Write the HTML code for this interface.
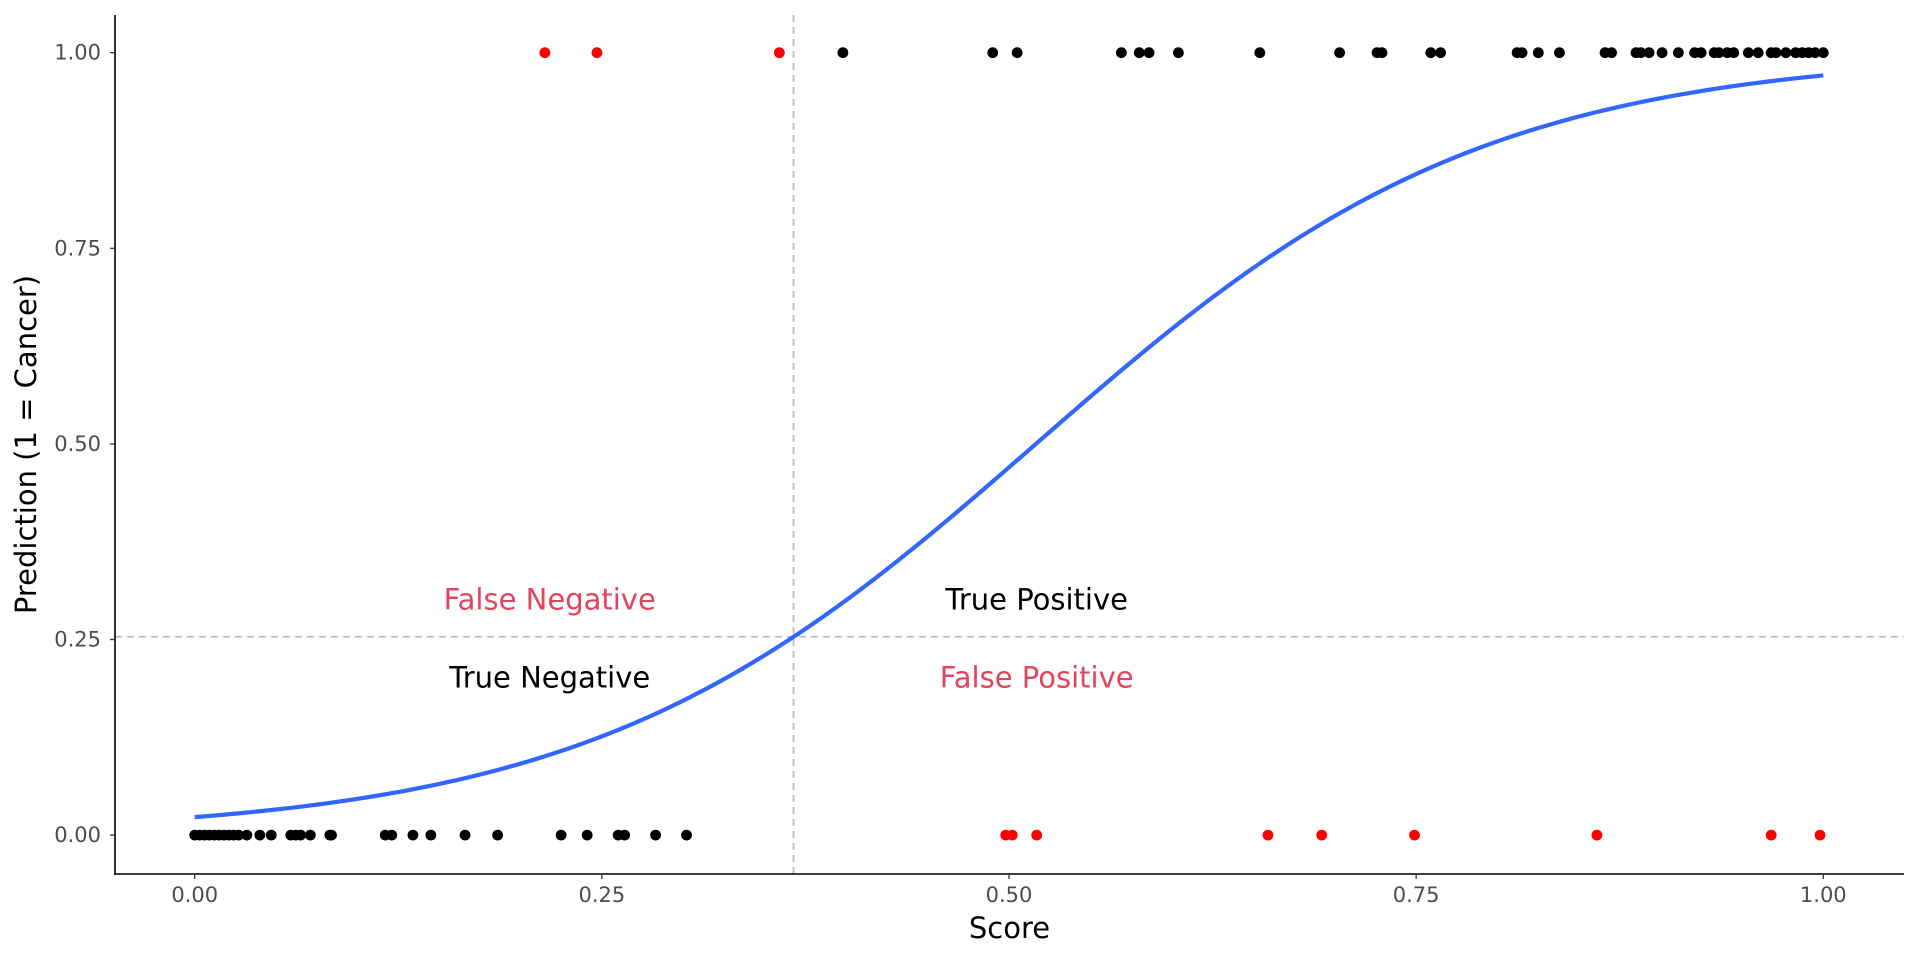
<!DOCTYPE html>
<html><head><meta charset="utf-8"><style>
html,body{margin:0;padding:0;background:#fff;}
svg{display:block;font-family:"DejaVu Sans","Liberation Sans",sans-serif;}
</style></head><body>
<svg id="chart" width="1920" height="960" xmlns="http://www.w3.org/2000/svg"></svg>
<script>
const xTicks = [0, 0.25, 0.5, 0.75, 1.0];
const xTickLabels = ["0.00", "0.25", "0.50", "0.75", "1.00"];
const yTicks = [0, 0.25, 0.5, 0.75, 1.0];
const yTickLabels = ["0.00", "0.25", "0.50", "0.75", "1.00"];
const topRed = [0.215, 0.247, 0.359];
const topBlack = [0.398,0.490,0.505,0.569,0.580,0.586,0.604,0.654,0.703,0.726,0.729,0.759,0.765,0.812,0.815,0.825,0.838,0.866,0.870,0.885,0.888,0.893,0.901,0.911,0.921,0.925,0.933,0.936,0.941,0.945,0.954,0.960,0.968,0.971,0.977,0.983,0.987,0.991,0.995,1.0];
const bottomBlack = [0.0,0.003,0.006,0.009,0.012,0.015,0.018,0.021,0.024,0.027,0.032,0.040,0.047,0.059,0.062,0.065,0.071,0.083,0.084,0.117,0.121,0.134,0.145,0.166,0.186,0.225,0.241,0.260,0.264,0.283,0.302];
const bottomRed = [0.498,0.502,0.517,0.659,0.692,0.749,0.861,0.968,0.998];
const curveCoef = [-3.75, 7.26];
const threshold = [0.3677, 0.2535];
const annotations = [
  {text:"False Negative", x:0.218, y:0.30, red:true},
  {text:"True Negative", x:0.218, y:0.20, red:false},
  {text:"True Positive", x:0.517, y:0.30, red:false},
  {text:"False Positive", x:0.517, y:0.20, red:true}
];

const svg = document.getElementById('chart');
const NS = 'http://www.w3.org/2000/svg';
const X0 = 194.7, X1 = 1823.3, Y0 = 835.1, Y1 = 52.7;
const L = 115, R = 1904, T = 15, B = 874;
const sx = v => X0 + (X1 - X0) * v;
const sy = v => Y0 - (Y0 - Y1) * v;
function mk(tag, attrs, parent) {
  const e = document.createElementNS(NS, tag);
  for (const k in attrs) e.setAttribute(k, attrs[k]);
  (parent || svg).appendChild(e);
  return e;
}

let e = mk('line', {x1: sx(threshold[0]), x2: sx(threshold[0]), y1: T, y2: B, stroke: '#bdbdbd', 'stroke-width': 1.8, 'stroke-dasharray': '7,5'});


e = mk('line', {x1: L, x2: R, y1: sy(threshold[1]), y2: sy(threshold[1]), stroke: '#bdbdbd', 'stroke-width': 1.8, 'stroke-dasharray': '7,5'});



let d = '';
for (let i = 0; i <= 200; i++) {
  const s = i / 200;
  const p = 1 / (1 + Math.exp(-(curveCoef[0] + curveCoef[1] * s)));
  d += (i ? 'L' : 'M') + sx(s).toFixed(2) + ',' + sy(p).toFixed(2);
}
e = mk('path', {d: d, fill: 'none', stroke: '#3366ff', 'stroke-width': 4.2});



function pts(arr, yv, color, name) {
  arr.forEach(v => {
    const c = mk('circle', {cx: sx(v), cy: sy(yv), r: 5.4, fill: color});
    
    
  });
}
pts(topBlack, 1, '#000', 'point-true-positive');
pts(topRed, 1, '#ff0000', 'point-false-negative');
pts(bottomBlack, 0, '#000', 'point-true-negative');
pts(bottomRed, 0, '#ff0000', 'point-false-positive');

annotations.forEach(a => {
  const t = mk('text', {x: sx(a.x), y: sy(a.y) + 9, 'text-anchor': 'middle', 'font-size': 29, fill: a.red ? '#e2445e' : '#000'});
  t.textContent = a.text;
  
  
});

e = mk('line', {x1: L, x2: L, y1: T, y2: B + 1, stroke: '#000', 'stroke-width': 1.6});


e = mk('line', {x1: L - 1, x2: R, y1: B, y2: B, stroke: '#000', 'stroke-width': 1.6});



xTicks.forEach((v, i) => {
  const tk = mk('line', {x1: sx(v), x2: sx(v), y1: B, y2: B + 5, stroke: '#333', 'stroke-width': 1.3});
  
  
  const t = mk('text', {x: sx(v), y: B + 28, 'text-anchor': 'middle', 'font-size': 21, fill: '#4d4d4d'});
  t.textContent = xTickLabels[i];
  
  
});
yTicks.forEach((v, i) => {
  const tk = mk('line', {x1: L - 5, x2: L, y1: sy(v), y2: sy(v), stroke: '#333', 'stroke-width': 1.3});
  
  
  const t = mk('text', {x: L - 14, y: sy(v) + 7, 'text-anchor': 'end', 'font-size': 21, fill: '#4d4d4d'});
  t.textContent = yTickLabels[i];
  
  
});

e = mk('text', {x: (L + R) / 2, y: 938, 'text-anchor': 'middle', 'font-size': 29, fill: '#000'});
e.textContent = 'Score';


e = mk('text', {x: 0, y: 0, 'text-anchor': 'middle', 'font-size': 29, fill: '#000', transform: 'translate(36,' + ((T + B) / 2) + ') rotate(-90)'});
e.textContent = 'Prediction (1 = Cancer)';


</script>
</body></html>
